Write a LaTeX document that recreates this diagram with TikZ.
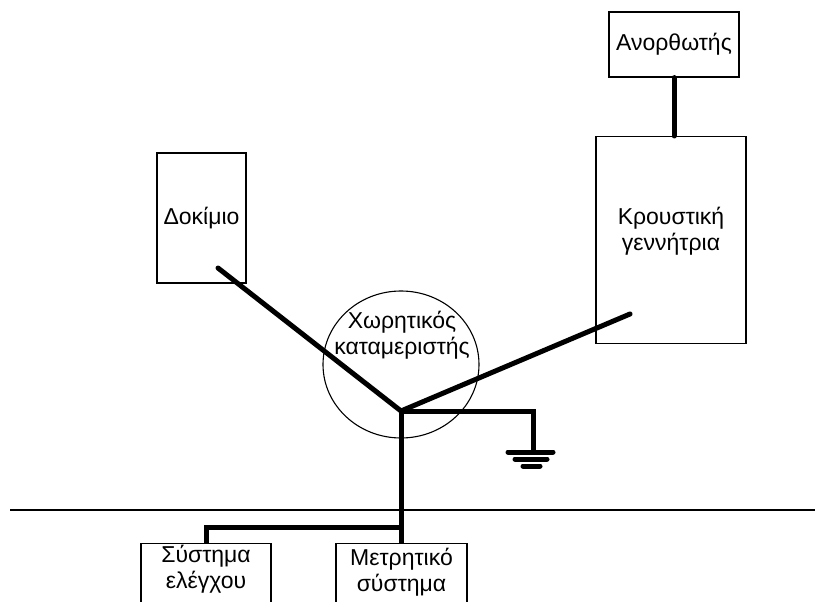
\documentclass[tikz,border=0pt]{standalone}
\usepackage{fontspec}
\setmainfont{Liberation Sans}
\usetikzlibrary{shapes.geometric}
\begin{document}
\begin{tikzpicture}[x=1pt,y=-1pt,
  box/.style={draw,line width=1.2pt,rectangle,inner sep=0pt},
  lbl/.style={font=\fontsize{23}{25.5}\selectfont,align=center,inner sep=0pt},
  wire/.style={line width=5pt,line cap=round,line join=miter},
  thin/.style={line width=1.1pt}]
\useasboundingbox (0,0) rectangle (815,602);
\fill[white] (0,0) rectangle (815,602);
% boxes
\node[box,minimum width=130pt,minimum height=65pt,lbl] (anor) at (674,44.5) {Ανορθωτής};
\node[box,minimum width=150pt,minimum height=207pt] (krou) at (671,240) {};
\node[lbl] (kroutext) at (671,231) {Κρουστική\\γεννήτρια};
\node[box,minimum width=89pt,minimum height=130pt,lbl] (dok) at (201.5,218) {Δοκίμιο};
\node[draw,thin,ellipse,minimum width=156pt,minimum height=147pt,inner sep=0pt] (cap) at (401,364.5) {};
\node[lbl] (captext) at (402,335) {Χωρητικός\\καταμεριστής};
\node[box,anchor=north,minimum width=130pt,minimum height=100pt] (syst) at (206,543) {};
\node[lbl] (systtext) at (206,569) {Σύστημα\\ελέγχου};
\node[box,anchor=north,minimum width=131pt,minimum height=100pt] (meter) at (401.5,543) {};
\node[lbl] (metertext) at (401.5,572) {Μετρητικό\\σύστημα};
% coordinates
\coordinate (J) at (401,411);
\coordinate (d1) at (218,268);
\coordinate (k1) at (630,314);
\coordinate (g) at (533,452);
\coordinate (hl) at (10,510);
\coordinate (hr) at (815,510);
% connectors
\draw[wire] (anor.south -| 674,0) -- (674,136);
\draw[wire] (d1) -- (J) -- (k1);
\draw[wire,line cap=butt] (J) -- (401,543);
\draw[wire,line cap=butt] (206,543) -- (206,527) -- (401,527);
\draw[wire,line cap=butt] (J) -- (533,411) -- (g);
\draw[wire] (508,452) -- (553,452);
\draw[wire] (515,459) -- (547,459);
\draw[wire] (523,466) -- (540,466);
\draw[thin] (hl) -- (hr);
\end{tikzpicture}
\end{document}
